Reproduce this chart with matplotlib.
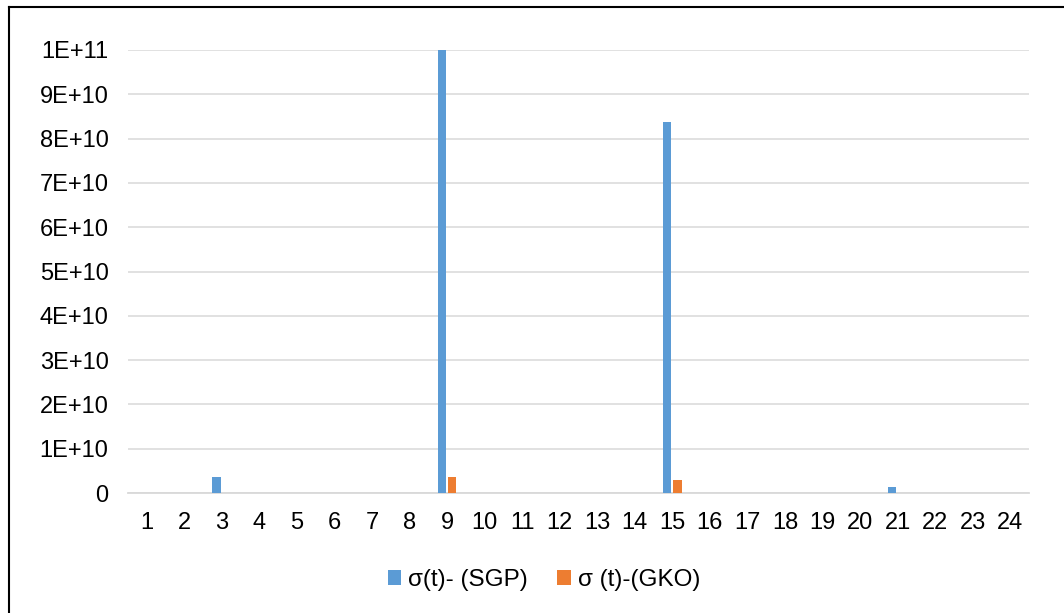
import matplotlib.pyplot as plt
from matplotlib.lines import Line2D
import numpy as np

plt.rcParams['font.family'] = ['Liberation Sans', 'DejaVu Sans']

# hours 1..24
categories = [str(i) for i in range(1, 25)]
sgp = [0, 0, 3.6e9, 0, 0, 0, 0, 0, 1.0e11, 0, 0, 0, 0, 0, 8.37e10, 0, 0, 0, 0, 0, 1.35e9, 0, 0, 0]
gko = [0, 0, 0, 0, 0, 0, 0, 0, 3.7e9, 0, 0, 0, 0, 0, 2.9e9, 0, 0, 0, 0, 0, 0, 0, 0, 0]
yticks = [i * 1e10 for i in range(11)]
ylabels = ['0'] + ['%dE+10' % i for i in range(1, 10)] + ['1E+11']

fig = plt.figure(figsize=(10.64, 6.13), dpi=100)
ax = fig.add_axes([128 / 1064, 1 - 493 / 613, (1029 - 128) / 1064, (493 - 50) / 613])

x = np.arange(len(categories))
w = 0.22
ax.bar(x - 0.145, sgp, w, color='#5b9bd5', label='σ(t)- (SGP)', zorder=3)
ax.bar(x + 0.135, gko, w, color='#ed7d31', label='σ (t)-(GKO)', zorder=3)

ax.set_xlim(-0.5, len(categories) - 0.5)
ax.set_ylim(0, 1e11)
ax.set_xticks(x)
ax.set_xticklabels(categories)
ax.set_yticks(yticks)
ax.set_yticklabels(ylabels)
ax.tick_params(length=0, labelsize=17, colors='#000000')
ax.tick_params(axis='y', pad=14)
ax.tick_params(axis='x', pad=14)
ax.grid(axis='y', color='#dedede', linewidth=1.3, zorder=0)
ax.set_axisbelow(True)
for s in ax.spines.values():
    s.set_visible(False)
ax.axhline(0, color='#d9d9d9', linewidth=1.3, zorder=1, clip_on=False)

fig.legend(loc='center', bbox_to_anchor=(544 / 1064, 1 - 580 / 613), ncol=2, frameon=False,
           fontsize=17.5, handlelength=0.55, handleheight=0.55, handletextpad=0.3, columnspacing=1.2)

# outer frame, left and top edges
fig.add_artist(Line2D([9 / 1064, 9 / 1064], [0, 1 - 7 / 613], transform=fig.transFigure, color='black', linewidth=1.5))
fig.add_artist(Line2D([9 / 1064, 1], [1 - 7 / 613, 1 - 7 / 613], transform=fig.transFigure, color='black', linewidth=1.5))

fig.savefig('out.png', dpi=100)
